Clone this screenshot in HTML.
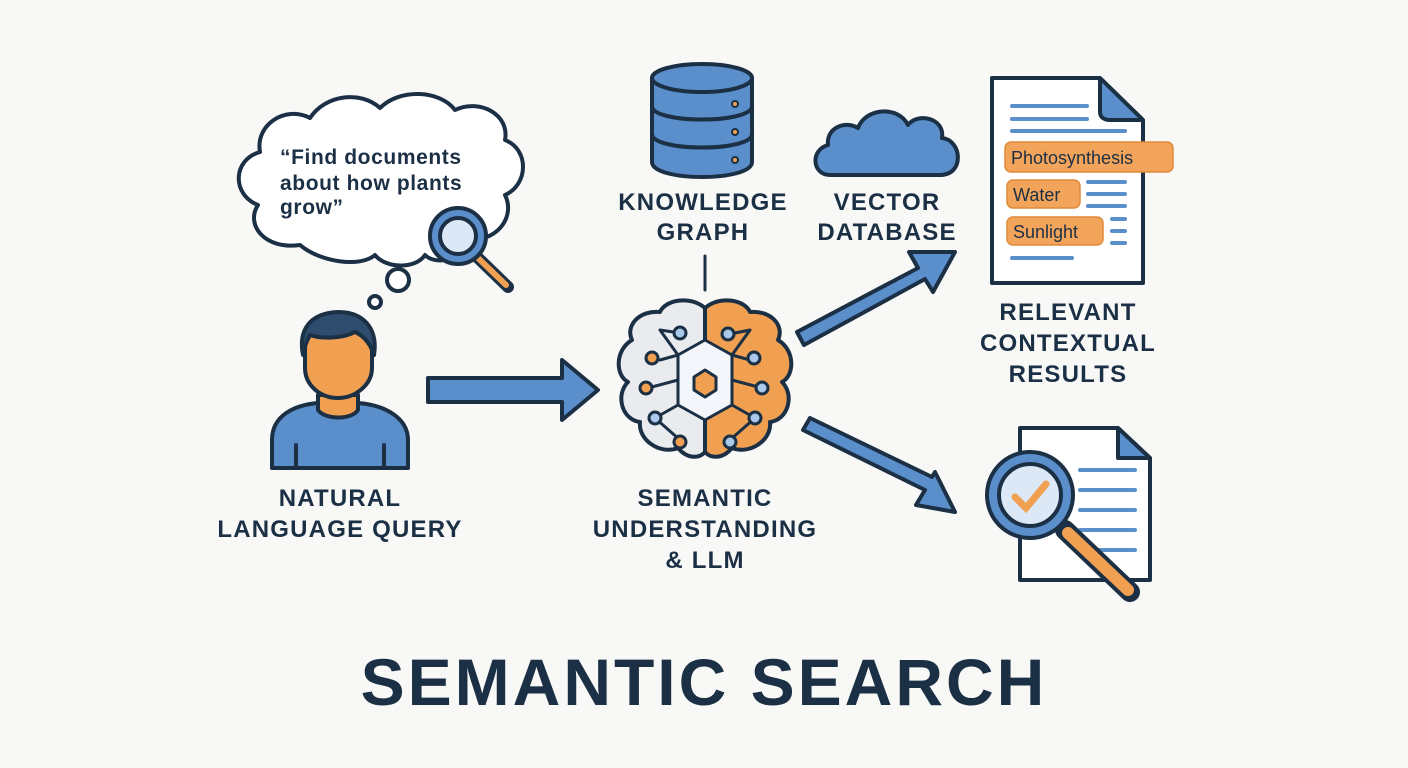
<!DOCTYPE html>
<html><head><meta charset="utf-8"><style>
html,body{margin:0;padding:0;background:#f8f8f6;}
svg{display:block}
text{font-family:"Liberation Sans","DejaVu Sans",sans-serif;font-weight:bold;fill:#1b2f45}
</style></head><body>
<svg width="1408" height="768" viewBox="0 0 1408 768" xmlns="http://www.w3.org/2000/svg">
<rect width="1408" height="768" fill="#f8f8f6"/>
<g stroke="#1b2f45" stroke-width="4" stroke-linejoin="round" stroke-linecap="round">
<!-- thought cloud -->
<path d="M300,245 C265,250 245,225 258,205 C232,195 232,160 260,152 C255,125 285,105 310,118 C325,95 360,90 380,108 C400,88 440,90 455,110 C480,98 510,115 505,140 C530,150 528,185 505,195 C515,215 500,240 470,240 C460,262 435,265 425,255 C415,270 385,268 375,255 C360,268 320,262 300,245 Z" fill="#fff"/>
<circle cx="398" cy="280" r="11" fill="#fff"/>
<circle cx="375" cy="302" r="6" fill="#fff"/>
<!-- magnifier -->
<line x1="475" y1="255" x2="508" y2="287" stroke-width="12"/>
<line x1="477" y1="257" x2="506" y2="285" stroke="#f0a050" stroke-width="6"/>
<circle cx="458" cy="236" r="28" fill="#5b8fcb"/>
<circle cx="458" cy="236" r="18" fill="#dce8f5"/>
<!-- person -->
<path d="M272,468 L272,440 C272,415 295,405 318,403 L358,403 C385,405 408,418 408,440 L408,468 Z" fill="#5b8fcb"/>
<path d="M318,395 L318,410 C325,420 352,420 358,410 L358,395 Z" fill="#f0a050"/>
<path d="M305,350 C305,325 320,318 338,318 C358,318 372,328 372,350 L372,368 C372,385 355,398 338,398 C320,398 305,385 305,368 Z" fill="#f0a050"/>
<path d="M303,355 C298,330 310,313 338,312 C365,312 378,330 374,355 C370,342 362,335 355,332 C340,340 318,338 310,335 C306,342 304,348 303,355 Z" fill="#2e4d6e"/>
<line x1="296" y1="445" x2="296" y2="468"/><line x1="384" y1="445" x2="384" y2="468"/>
<!-- arrow 1 -->
<path d="M428,378 L562,378 L562,360 L598,390 L562,420 L562,402 L428,402 Z" fill="#5b8fcb"/>
<!-- database -->
<path d="M652,78 L652,162 C652,182 752,182 752,162 L752,78" fill="#5b8fcb"/>
<ellipse cx="702" cy="78" rx="50" ry="14" fill="#5b8fcb"/>
<path d="M652,106 C652,124 752,124 752,106 M652,134 C652,152 752,152 752,134" fill="none"/>
<circle cx="735" cy="104" r="3" fill="#f0a050" stroke-width="2"/>
<circle cx="735" cy="132" r="3" fill="#f0a050" stroke-width="2"/>
<circle cx="735" cy="160" r="3" fill="#f0a050" stroke-width="2"/>
<line x1="705" y1="256" x2="705" y2="290" stroke-width="3"/>
<!-- cloud -->
<path d="M830,175 C812,175 810,150 828,145 C826,128 845,120 858,128 C865,108 898,105 908,125 C918,112 945,118 942,138 C962,140 965,175 940,175 Z" fill="#5b8fcb"/>
<!-- arrows to results -->
<path d="M797,332 L918,268 L909,252 L955,252 L933,292 L925,279 L804,345 Z" fill="#5b8fcb"/>
<path d="M803,430 L925,490 L916,505 L955,512 L935,472 L932,477 L810,418 Z" fill="#5b8fcb"/>
<!-- brain -->
<path d="M705,308 C690,295 665,300 660,312 C640,310 625,325 632,340 C615,350 615,375 628,382 C615,395 622,420 640,422 C638,440 660,455 678,448 C688,460 700,458 705,452 Z" fill="#e9ebee"/>
<path d="M705,308 C720,295 745,300 750,312 C770,310 785,325 778,340 C795,350 795,375 782,382 C795,395 788,420 770,422 C772,440 750,455 732,448 C722,460 710,458 705,452 Z" fill="#f0a050"/>
<path d="M705,308 L705,452" fill="none"/>
<path d="M678,355 L705,340 L732,355 L732,405 L705,420 L678,405 Z" fill="#f3f6fb" stroke-width="3"/>
<polygon points="705,370 716,377 716,390 705,397 694,390 694,377" fill="#f0a050" stroke-width="3"/>
<g fill="none" stroke-width="3">
<path d="M678,355 L660,330 L680,333 M678,380 L648,388 M678,405 L655,418 L680,440 M732,355 L750,330 L735,333 M732,380 L762,388 M732,405 L755,418 L730,440 M660,360 L678,355 M750,360 L732,355"/>
</g>
<g stroke-width="3">
<circle cx="680" cy="333" r="6" fill="#a9c8ea"/><circle cx="652" cy="358" r="6" fill="#f0a050"/>
<circle cx="646" cy="388" r="6" fill="#f0a050"/><circle cx="655" cy="418" r="6" fill="#a9c8ea"/>
<circle cx="680" cy="442" r="6" fill="#f0a050"/><circle cx="728" cy="334" r="6" fill="#a9c8ea"/>
<circle cx="754" cy="358" r="6" fill="#a9c8ea"/><circle cx="762" cy="388" r="6" fill="#a9c8ea"/>
<circle cx="755" cy="418" r="6" fill="#a9c8ea"/><circle cx="730" cy="442" r="6" fill="#a9c8ea"/>
</g>
<!-- doc 1 -->
<path d="M992,78 L1100,78 L1143,120 L1143,283 L992,283 Z" fill="#fff"/>
<path d="M1100,78 L1100,112 C1100,118 1105,120 1110,120 L1143,120 Z" fill="#5b8fcb"/>
<!-- doc 2 -->
<path d="M1020,428 L1118,428 L1150,458 L1150,580 L1020,580 Z" fill="#fff"/>
<path d="M1118,428 L1118,458 L1150,458 Z" fill="#5b8fcb"/>
</g>
<g stroke="#5b8fcb" stroke-width="4" stroke-linecap="round">
<line x1="1012" y1="106" x2="1087" y2="106"/><line x1="1012" y1="119" x2="1087" y2="119"/><line x1="1012" y1="131" x2="1125" y2="131"/>
<line x1="1088" y1="182" x2="1125" y2="182"/><line x1="1088" y1="194" x2="1125" y2="194"/><line x1="1088" y1="206" x2="1125" y2="206"/>
<line x1="1112" y1="219" x2="1125" y2="219"/><line x1="1112" y1="231" x2="1125" y2="231"/><line x1="1112" y1="243" x2="1125" y2="243"/>
<line x1="1012" y1="258" x2="1072" y2="258"/>
<line x1="1080" y1="470" x2="1135" y2="470"/><line x1="1080" y1="490" x2="1135" y2="490"/><line x1="1080" y1="510" x2="1135" y2="510"/><line x1="1080" y1="530" x2="1135" y2="530"/><line x1="1080" y1="550" x2="1135" y2="550"/>
</g>
<g stroke="#e08a3a" stroke-width="1.5">
<rect x="1005" y="142" width="168" height="30" rx="6" fill="#f2a55a"/>
<rect x="1007" y="180" width="73" height="28" rx="6" fill="#f2a55a"/>
<rect x="1007" y="217" width="96" height="28" rx="6" fill="#f2a55a"/>
</g>
<text x="1011" y="164" font-size="18" style="font-weight:normal">Photosynthesis</text>
<text x="1013" y="201" font-size="18" style="font-weight:normal">Water</text>
<text x="1013" y="238" font-size="18" style="font-weight:normal">Sunlight</text>
<!-- magnifier 2 -->
<g stroke="#1b2f45" stroke-linecap="round">
<line x1="1065" y1="530" x2="1130" y2="592" stroke-width="20"/>
<line x1="1068" y1="533" x2="1128" y2="590" stroke="#f0a050" stroke-width="12"/>
<circle cx="1030" cy="495" r="43" fill="#5b8fcb" stroke-width="4"/>
<circle cx="1030" cy="495" r="31" fill="#dce8f5" stroke-width="4"/>
<path d="M1015,497 L1026,508 L1046,484" fill="none" stroke="#f0a050" stroke-width="7"/>
</g>
<!-- labels -->
<g font-size="21" letter-spacing="0.6"><text x="280" y="164">“Find documents</text><text x="280" y="190">about how plants</text><text x="280" y="214">grow”</text></g>
<g font-size="24" text-anchor="middle" letter-spacing="1.2">
<text x="340" y="506">NATURAL</text><text x="340" y="537">LANGUAGE QUERY</text>
<text x="703" y="210">KNOWLEDGE</text><text x="703" y="240">GRAPH</text>
<text x="887" y="210">VECTOR</text><text x="887" y="240">DATABASE</text>
<text x="705" y="506">SEMANTIC</text><text x="705" y="537">UNDERSTANDING</text><text x="705" y="568">&amp; LLM</text>
<text x="1068" y="320">RELEVANT</text><text x="1068" y="351">CONTEXTUAL</text><text x="1068" y="382">RESULTS</text>
</g>
<text x="704" y="705" font-size="66" text-anchor="middle" letter-spacing="3">SEMANTIC SEARCH</text>
</svg>
</body></html>
